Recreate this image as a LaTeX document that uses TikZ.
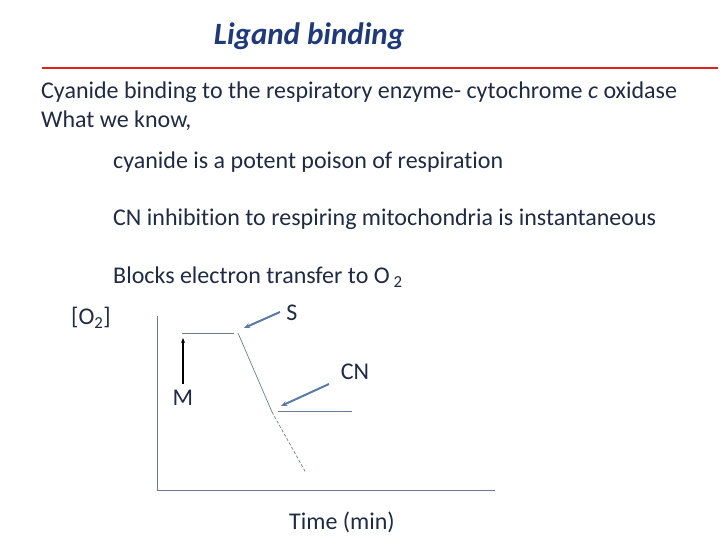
\documentclass[tikz,border=0pt]{standalone}
\usepackage{fontspec}
\usetikzlibrary{arrows.meta}
\setmainfont{Carlito}[Ligatures=NoCommon]
\definecolor{txt}{HTML}{1F2A44}
\definecolor{ttl}{HTML}{1F3A7A}
\definecolor{ax}{HTML}{6A7C94}
\definecolor{arr}{HTML}{5A7BA8}
\definecolor{rl}{HTML}{E02020}
\begin{document}
\begin{tikzpicture}[x=1pt,y=-1pt,
  lbl/.style={text=txt,font=\fontsize{24}{28}\selectfont,inner sep=0pt},
  ln/.style={ax,line width=0.7pt},
  pt/.style={arr,line width=2pt,-{Stealth[length=6pt,width=5pt]}}]
\useasboundingbox (0,0) rectangle (720,540);
\node[text=ttl,font=\fontsize{31}{36}\selectfont\bfseries\itshape,inner sep=0pt] (title) at (309,36) {Ligand binding};
\coordinate (rl1) at (42,68); \coordinate (rl2) at (718,68);
\draw[rl,line width=2.5pt] (rl1) -- (rl2);
\node[lbl,anchor=west] (l1) at (41,92) {Cyanide binding to the respiratory enzyme- cytochrome \textit{c} oxidase};
\node[lbl,anchor=west] (l2) at (41,121) {What we know,};
\node[lbl,anchor=west] (l3) at (113,162) {cyanide is a potent poison of respiration};
\node[lbl,anchor=west] (l4) at (113,219) {CN inhibition to respiring mitochondria is instantaneous};
\node[lbl,anchor=west] (l5) at (113,277) {Blocks electron transfer to O\,\textsubscript{2}};
\node[lbl] (o2) at (91,318) {[O\textsubscript{2}]};
\node[lbl] (S) at (292,313) {S};
\node[lbl] (CN) at (355,372) {CN};
\node[lbl] (M) at (183,398) {M};
\node[lbl] (time) at (342,522) {Time (min)};
\coordinate (ytop) at (157,316); \coordinate (org) at (157,490); \coordinate (xend) at (495,490);
\draw[ln] (ytop) -- (org) -- (xend);
\coordinate (p1) at (182,333); \coordinate (p2) at (234,333);
\coordinate (d1) at (238,333); \coordinate (d2) at (272,412); \coordinate (d3) at (306,473);
\coordinate (c1) at (278,411); \coordinate (c2) at (352,411);
\draw[ln] (p1) -- (p2); \draw[ln] (d1) -- (d2); \draw[ln,dash pattern=on 3pt off 2pt] (d2) -- (d3);
\draw[ln] (c1) -- (c2);
\coordinate (m1) at (183,384); \coordinate (m2) at (183,338);
\draw[black,line width=1.5pt,-{Stealth[length=5pt,width=4pt]}] (m1) -- (m2);
\coordinate (s1) at (280,312); \coordinate (s2) at (244,328);
\draw[pt] (s1) -- (s2);
\coordinate (n1) at (329,384); \coordinate (n2) at (281,406);
\draw[pt] (n1) -- (n2);
\end{tikzpicture}
\end{document}
